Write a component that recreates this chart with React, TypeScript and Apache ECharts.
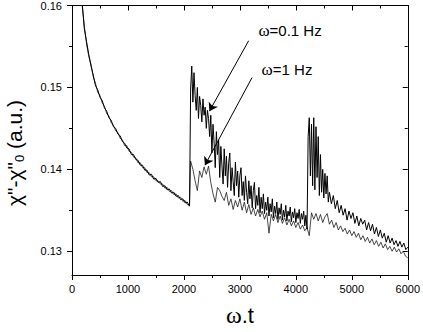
import React, { useEffect, useRef } from "react";
import * as echarts from "echarts";

// Tick values
const yMajor = [0.13, 0.14, 0.15, 0.16];
const yMinor = [0.135, 0.145, 0.155];

const decayA = [
  0.1604, 0.1572, 0.1556, 0.154, 0.1526, 0.1515, 0.1502, 0.1497, 0.1488, 0.1484,
  0.1475, 0.1471, 0.1463, 0.146, 0.1452, 0.145, 0.1443, 0.1441, 0.1434, 0.1432,
  0.1426, 0.1425, 0.1418, 0.1418, 0.1412, 0.1411, 0.1405, 0.1405, 0.1399, 0.1399,
  0.1393, 0.1394, 0.1388, 0.1389, 0.1384, 0.1385, 0.1379, 0.138, 0.1375, 0.1376,
  0.1371, 0.1372, 0.1367, 0.1368, 0.1363, 0.1364, 0.1359, 0.136, 0.1355,
];
const burstA = [
  0.1498, 0.1526, 0.1482, 0.1518, 0.149, 0.1472, 0.15, 0.1462, 0.1489, 0.1478,
  0.1458, 0.1486, 0.1466, 0.1476, 0.145, 0.1472, 0.1462, 0.144, 0.1466, 0.142,
  0.1455, 0.1432, 0.1402, 0.1446, 0.1418, 0.1436, 0.139, 0.1428, 0.1404, 0.1382,
  0.1425, 0.1392, 0.1416, 0.1378, 0.1408, 0.142, 0.1374, 0.1402, 0.1385, 0.1368,
  0.1409, 0.138, 0.1398, 0.1366, 0.1392, 0.1402, 0.1368, 0.1385, 0.1362, 0.1392,
  0.1372, 0.1358, 0.1386, 0.1364, 0.138, 0.1353, 0.1374, 0.1384, 0.1352, 0.1368,
  0.1356, 0.1378, 0.1347, 0.1366, 0.1352, 0.137, 0.1346, 0.136, 0.135, 0.1366,
  0.1343, 0.1358, 0.1348, 0.1364, 0.1341, 0.1355, 0.1346, 0.136, 0.1339, 0.1353,
  0.1345, 0.1358, 0.1338, 0.135, 0.1342, 0.1356, 0.1337, 0.1349, 0.1343, 0.1354,
  0.1336, 0.1348, 0.1341, 0.1352, 0.1335, 0.1347, 0.134, 0.1351, 0.1334, 0.1346,
  0.1339, 0.1349, 0.1331, 0.1344, 0.1327, 0.144, 0.1463, 0.1392, 0.1455, 0.138,
  0.1463, 0.1375, 0.1452, 0.139, 0.144, 0.1368, 0.1418, 0.1372, 0.14, 0.1365,
  0.1395, 0.137, 0.1392, 0.136, 0.1372,
];
const tailA = [
  0.1358, 0.1368, 0.1352, 0.1362, 0.1347, 0.1356, 0.1344, 0.1352, 0.1338, 0.1349,
  0.134, 0.1347, 0.1334, 0.1343, 0.1331, 0.134, 0.1333, 0.1338, 0.1326, 0.1335,
  0.1325, 0.1333, 0.1321, 0.1329, 0.1318, 0.1326, 0.1316, 0.1322, 0.1311, 0.1319,
  0.131, 0.1316, 0.1308, 0.1313, 0.1306, 0.1312, 0.1305, 0.131, 0.1302, 0.1305,
];

// ω=1 Hz trace
const decayB = [
  0.1602, 0.1575, 0.1553, 0.1538, 0.1528, 0.1513, 0.1505, 0.1494, 0.149, 0.1481,
  0.1477, 0.1468, 0.1465, 0.1457, 0.1454, 0.1447, 0.1445, 0.1438, 0.1436, 0.1429,
  0.1429, 0.1422, 0.1421, 0.1415, 0.1414, 0.1408, 0.1408, 0.1402, 0.1402, 0.1396,
  0.1396, 0.1391, 0.1391, 0.1386, 0.1386, 0.1382, 0.1382, 0.1377, 0.1378, 0.1373,
  0.1374, 0.1369, 0.137, 0.1365, 0.1366, 0.1361, 0.1362, 0.1357, 0.1356,
];
const afterB = [
  0.141, 0.14, 0.1386, 0.1374, 0.1398, 0.139, 0.1403, 0.1394, 0.1404, 0.1384,
  0.137, 0.136, 0.1378, 0.1374, 0.1367, 0.1362, 0.1372, 0.1356, 0.1364, 0.1351,
  0.1362, 0.1354, 0.1364, 0.135, 0.136, 0.1347, 0.1357, 0.1345, 0.1353, 0.1343,
  0.1351, 0.1342, 0.1349, 0.1339, 0.1347, 0.1322, 0.1345, 0.1337, 0.1345, 0.1335,
  0.1343, 0.1334, 0.1341, 0.1332, 0.1339, 0.1331, 0.1337, 0.1329, 0.1335, 0.1327,
  0.1332, 0.1325, 0.1329, 0.1319, 0.1347, 0.1339, 0.1346, 0.1337, 0.1345, 0.1335,
  0.1342, 0.1346, 0.1333, 0.1338, 0.1329, 0.1335, 0.1326, 0.1331, 0.1324, 0.1328,
  0.1321, 0.1326, 0.1319, 0.1324, 0.1317, 0.1322, 0.1314, 0.1319, 0.1312, 0.1317,
  0.131, 0.1315, 0.1308, 0.1313, 0.1306, 0.1311, 0.1304, 0.1309, 0.1302, 0.1306,
  0.13, 0.1305, 0.1299, 0.1303, 0.1297, 0.13, 0.1294, 0.1292,
];

const segmentsA = [
  { t0: 180, dt: 40, v: decayA },
  { t0: 2120, dt: 20, v: burstA },
  { t0: 4635, dt: 35, v: tailA },
];
const segmentsB = [
  { t0: 180, dt: 40, v: decayB },
  { t0: 2120, dt: 40, v: afterB },
];

// annotation anchors in data coordinates
const arrows = [
  { from: [3157, 0.1557], to: [2456, 0.1471] },
  { from: [3217, 0.1512], to: [2376, 0.1405] },
];
const labels = [
  { at: [3259, 0.1569], text: "=0.1 Hz" },
  { at: [3317, 0.15215], text: "=1 Hz" },
];

function build(segs: { t0: number; dt: number; v: number[] }[]) {
  const out: number[][] = [];
  segs.forEach((s) => s.v.forEach((y, i) => out.push([s.t0 + i * s.dt, y])));
  return out;
}

const SANS = "Liberation Sans, Arial, sans-serif";
const SERIF = "Liberation Serif, Times New Roman, serif";

export default function App() {
  const ref = useRef<HTMLDivElement>(null);
  useEffect(() => {
    if (!ref.current) return;
    const chart = echarts.init(ref.current, undefined, { renderer: "svg" });
    const ymin = 0.1271;
    const ymax = 0.16;
    const axisLine = { show: true, onZero: false, lineStyle: { color: "#000", width: 1 } };
    const noLine = { show: false, onZero: false };
    const tickStyle = () => ({ color: "#000", width: 1 });
    const xBase = { type: "value", min: 0, max: 6000, interval: 1000, splitLine: { show: false } };
    const yBase = { type: "value", min: ymin, max: ymax, splitLine: { show: false } };
    chart.setOption({
      animation: false,
      backgroundColor: "#fff",
      grid: { left: 72, right: 14, top: 5, bottom: 47, containLabel: false },
      xAxis: [
        {
          ...xBase,
          position: "bottom",
          axisLine,
          axisTick: { show: true, inside: false, length: 5, lineStyle: tickStyle() },
          minorTick: { show: true, splitNumber: 2, length: 3, lineStyle: tickStyle() },
          axisLabel: {
            show: true,
            margin: 8,
            color: "#000",
            fontSize: 11,
            fontFamily: SANS,
            formatter: (v: number) => String(v),
          },
          name: "{w|ω}{r|.t}",
          nameLocation: "middle",
          nameGap: 33,
          nameTextStyle: {
            rich: {
              w: { fontFamily: SERIF, fontSize: 24, lineHeight: 14, color: "#000" },
              r: { fontFamily: SANS, fontSize: 22, lineHeight: 14, color: "#000" },
            },
          },
        },
        {
          ...xBase,
          position: "top",
          axisLine,
          axisTick: { show: true, inside: true, length: 5, lineStyle: tickStyle() },
          minorTick: { show: true, splitNumber: 2, length: 3, lineStyle: tickStyle() },
          axisLabel: { show: false },
        },
      ],
      yAxis: [
        {
          ...yBase,
          position: "left",
          axisLine,
          axisTick: { show: true, inside: false, length: 5, customValues: yMajor, lineStyle: tickStyle() },
          axisLabel: {
            show: true,
            margin: 10,
            color: "#000",
            fontSize: 11,
            fontFamily: SANS,
            customValues: yMajor,
            formatter: (v: number) => v.toFixed(2),
          },
        },
        {
          ...yBase,
          position: "left",
          axisLine: noLine,
          axisTick: { show: true, inside: false, length: 3, customValues: yMinor, lineStyle: tickStyle() },
          axisLabel: { show: false },
        },
        {
          ...yBase,
          position: "right",
          axisLine,
          axisTick: { show: true, inside: true, length: 5, customValues: yMajor, lineStyle: tickStyle() },
          axisLabel: { show: false },
        },
        {
          ...yBase,
          position: "right",
          axisLine: noLine,
          axisTick: { show: true, inside: true, length: 3, customValues: yMinor, lineStyle: tickStyle() },
          axisLabel: { show: false },
        },
      ],
      series: [
        {
          name: "ω=1 Hz",
          type: "line",
          data: build(segmentsB),
          showSymbol: false,
          symbol: "none",
          clip: true,
          lineStyle: { color: "#1a1a1a", width: 0.8 },
          z: 2,
        },
        {
          name: "ω=0.1 Hz",
          type: "line",
          data: build(segmentsA),
          showSymbol: false,
          symbol: "none",
          clip: true,
          lineStyle: { color: "#000", width: 1 },
          z: 3,
        },
        {
          type: "line",
          data: [],
          markLine: {
            silent: true,
            animation: false,
            symbol: ["none", "arrow"],
            symbolSize: 8,
            label: { show: false },
            lineStyle: { color: "#000", width: 1, type: "solid" },
            data: arrows.map((a) => [{ coord: a.from }, { coord: a.to }]),
          },
          markPoint: {
            silent: true,
            animation: false,
            symbol: "circle",
            symbolSize: 0,
            data: labels.map((l) => ({
              coord: l.at,
              label: {
                show: true,
                position: [4, 0],
                align: "left",
                verticalAlign: "middle",
                formatter: "{w|ω}{r|" + l.text + "}",
                rich: {
                  w: { fontFamily: SERIF, fontSize: 17, color: "#000" },
                  r: { fontFamily: SANS, fontSize: 15, color: "#000" },
                },
              },
            })),
          },
        },
      ],
      graphic: [
        {
          type: "text",
          x: 14,
          y: 153,
          rotation: Math.PI / 2,
          style: {
            text: '{a|χ"-χ"}{s|0}{a| (a.u.)}',
            align: "center",
            verticalAlign: "middle",
            rich: {
              a: { fontFamily: SANS, fontSize: 21, lineHeight: 24, fill: "#000", color: "#000" },
              s: { fontFamily: SANS, fontSize: 13, lineHeight: 10, verticalAlign: "bottom", fill: "#000", color: "#000" },
            },
          },
        },
      ],
    });
    return () => chart.dispose();
  }, []);
  return (
    <div
      ref={ref}
      style={{ position: "absolute", left: 0, top: 0, width: 423, height: 332, background: "#fff" }}
    />
  );
}
